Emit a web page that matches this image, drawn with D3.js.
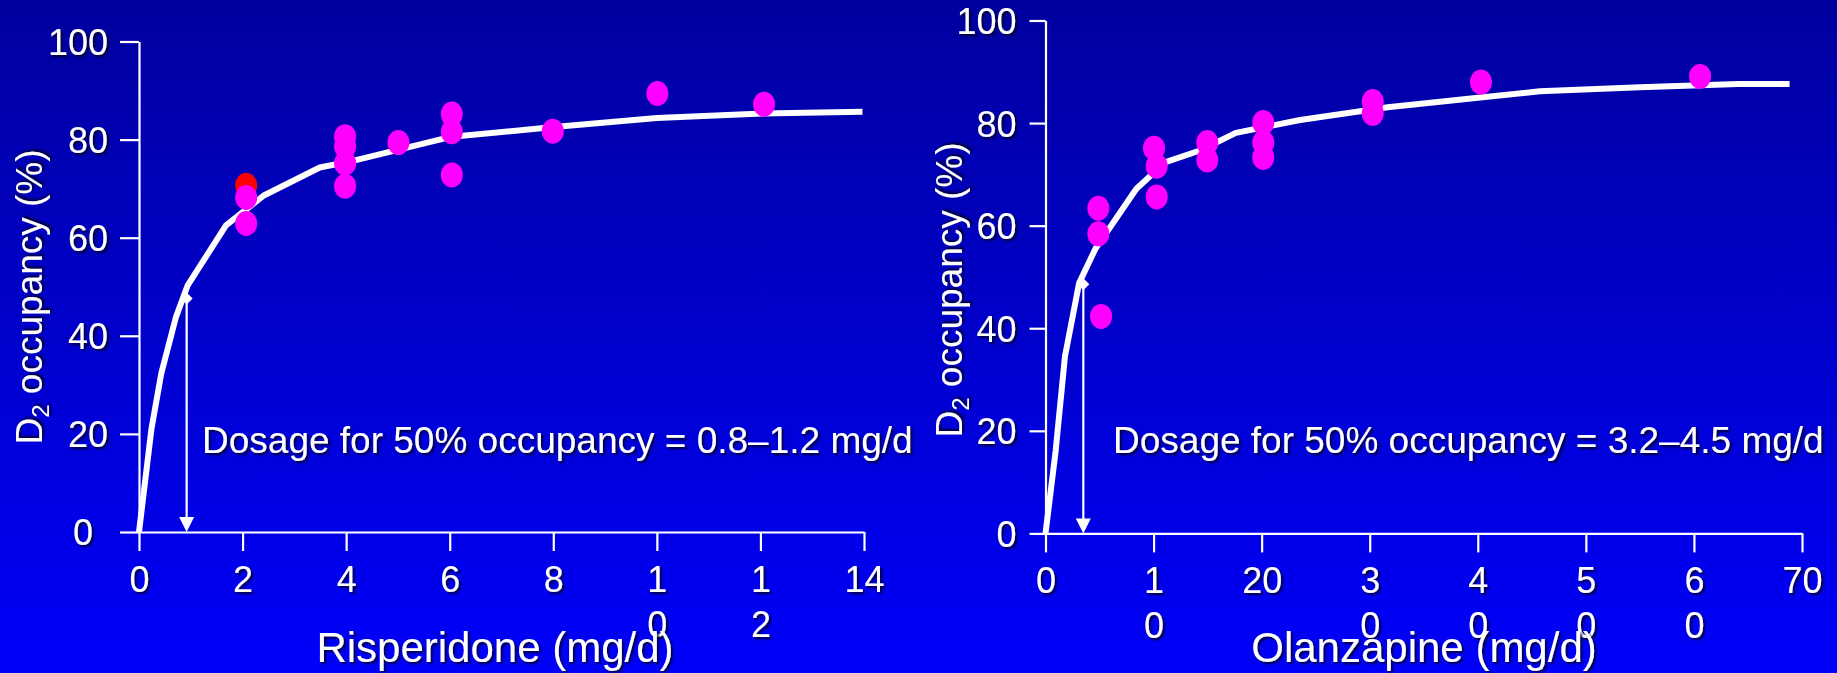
<!DOCTYPE html>
<html>
<head>
<meta charset="utf-8">
<script src="https://cdn.jsdelivr.net/npm/d3@7"></script>
<style>
  html, body { margin: 0; padding: 0; background: #0000c8; }
  svg { display: block; }
  text { font-family: "Liberation Sans", Arial, sans-serif; fill: #ffffff; }
</style>
</head>
<body>
<svg id="chart" width="1837" height="673"></svg>
<script>
// ---- Risperidone panel ----
const risDose = [2.07, 2.07, 3.98, 3.98, 3.98, 3.98, 5.01, 6.04, 6.04, 6.04, 7.99, 10.01, 12.07];
const risOcc  = [68.2, 62.9, 80.6, 78.6, 75.2, 70.5, 79.4, 85.2, 81.6, 72.8, 81.7, 89.4, 87.2];
const risRedDose = [2.07];
const risRedOcc  = [70.7];
const risCurveDose = [0, 0.24, 0.43, 0.71, 0.94, 1.68, 2.41, 3.49, 4.11, 6.04, 7.96, 10.0, 12.04, 13.97];
const risCurveOcc  = [0, 21, 32.3, 43.7, 50.3, 62.5, 68.6, 74.3, 75.6, 80.6, 82.5, 84.4, 85.3, 85.7];
const risHalfDose = [0.92];
const risHalfOcc  = [47.6];
const risXTicks  = [0, 2, 4, 6, 8, 10, 12, 14];
const risXLabels = ["0", "2", "4", "6", "8", "1\n0", "1\n2", "14"];

// ---- Olanzapine panel ----
const olaDose = [4.89, 4.89, 5.14, 10.04, 10.29, 10.29, 14.97, 14.97, 20.15, 20.15, 20.15, 30.28, 30.28, 40.29, 60.57];
const olaOcc  = [63.4, 58.4, 42.3, 75.1, 71.6, 65.6, 76.2, 72.8, 80.1, 76.2, 73.3, 84.2, 81.9, 88.0, 89.1];
const olaCurveDose = [0, 0.94, 1.80, 3.11, 4.62, 8.41, 11.11, 14.36, 17.61, 23.56, 31.67, 39.8, 45.75, 55.0, 64.1, 68.85];
const olaCurveOcc  = [0, 16.1, 34.5, 48.8, 55.5, 67.2, 72.4, 74.7, 78.1, 80.6, 83.1, 84.9, 86.2, 87.0, 87.6, 87.6];
const olaHalfDose = [3.5];
const olaHalfOcc  = [48.6];
const olaXTicks  = [0, 10, 20, 30, 40, 50, 60, 70];
const olaXLabels = ["0", "1\n0", "20", "3\n0", "4\n0", "5\n0", "6\n0", "70"];

const yTicks  = [0, 20, 40, 60, 80, 100];
const yLabels = ["0", "20", "40", "60", "80", "100"];

const svg = d3.select("#chart");
const defs = svg.append("defs");

// blue backdrop, darker at the top
const grad = defs.append("linearGradient").attr("id", "bg")
  .attr("x1", 0).attr("y1", 0).attr("x2", 0).attr("y2", 1);
grad.append("stop").attr("offset", "0%").attr("stop-color", "#00009e");
grad.append("stop").attr("offset", "100%").attr("stop-color", "#0000fa");
svg.append("rect").attr("width", 1837).attr("height", 673).attr("fill", "url(#bg)");

// soft dark shadow under white lettering
const shadow = defs.append("filter").attr("id", "shadow")
  .attr("x", "-10%").attr("y", "-10%").attr("width", "130%").attr("height", "130%");
shadow.append("feDropShadow").attr("dx", 2).attr("dy", 2)
  .attr("stdDeviation", 0.8).attr("flood-color", "#000020").attr("flood-opacity", 0.85);

function panel(cfg) {
  const x = d3.scaleLinear().domain(cfg.xDomain).range(cfg.xRange);
  const y = d3.scaleLinear().domain([0, 100]).range(cfg.yRange);
  const g = svg.append("g");

  // y axis
  const yAxis = d3.axisLeft(y).tickValues(yTicks)
    .tickFormat((d, i) => yLabels[i]).tickSize(cfg.yTickSize).tickSizeOuter(0).tickPadding(cfg.yPad);
  const ya = g.append("g").attr("transform", `translate(${x(0)},0)`).call(yAxis);

  // x axis
  const xAxis = d3.axisBottom(x).tickValues(cfg.xTicks)
    .tickFormat((d, i) => cfg.xLabels[i]).tickSize(19).tickSizeOuter(0).tickPadding(0);
  const xa = g.append("g").attr("transform", `translate(0,${y(0)})`).call(xAxis);

  [ya, xa].forEach(a => {
    a.select(".domain").attr("stroke", "#fff").attr("stroke-width", 2.2);
    a.selectAll(".tick line").attr("stroke", "#fff").attr("stroke-width", 2.2);
    a.selectAll(".tick text").attr("fill", "#fff").attr("font-size", 36)
      .attr("font-family", "'Liberation Sans', Arial, sans-serif")
      .attr("filter", "url(#shadow)");
  });
  ya.selectAll(".tick text").attr("dy", "0.36em")
    .attr("dx", (d) => (d === 0 ? cfg.zeroShift : 0));

  // two-line tick labels where the text wraps
  xa.selectAll(".tick text").each(function (d, i) {
    const t = d3.select(this);
    const parts = cfg.xLabels[i].split("\n");
    t.text(null).attr("dy", null).attr("y", 0);
    parts.forEach((p, k) => {
      t.append("tspan").attr("x", 0).attr("y", 60 + k * 45).text(p);
    });
  });

  // fitted occupancy curve
  const curvePts = cfg.curveDose.map((d, i) => [d, cfg.curveOcc[i]]);
  g.append("path").datum(curvePts)
    .attr("d", d3.line().x(d => x(d[0])).y(d => y(d[1])))
    .attr("fill", "none").attr("stroke", "#fff").attr("stroke-width", 6)
    .attr("stroke-linejoin", "round");

  // 50% occupancy dose marker
  const hx = x(cfg.halfDose[0]), hy = y(cfg.halfOcc[0]), by = y(0);
  g.append("line").attr("x1", hx).attr("x2", hx).attr("y1", hy).attr("y2", by - 12)
    .attr("stroke", "#fff").attr("stroke-width", 2.2);
  g.append("path")
    .attr("d", `M${hx - 7.5},${by - 15} L${hx + 7.5},${by - 15} L${hx},${by} Z`)
    .attr("fill", "#fff");
  g.append("path")
    .attr("d", `M${hx},${hy - 6} L${hx + 6},${hy} L${hx},${hy + 6} L${hx - 6},${hy} Z`)
    .attr("fill", "#fff");

  // subject measurements
  if (cfg.redDose) {
    g.selectAll(".red").data(cfg.redDose.map((d, i) => [d, cfg.redOcc[i]])).join("ellipse")
      .attr("cx", d => x(d[0])).attr("cy", d => y(d[1]))
      .attr("rx", 11).attr("ry", 12.5).attr("fill", "#ff0000");
  }
  g.selectAll(".pt").data(cfg.dose.map((d, i) => [d, cfg.occ[i]])).join("ellipse")
    .attr("cx", d => x(d[0])).attr("cy", d => y(d[1]))
    .attr("rx", 11).attr("ry", 12.5).attr("fill", "#ff00ff");

  // annotation
  g.append("text").attr("x", cfg.noteX).attr("y", 452.5)
    .attr("font-size", 37).attr("filter", "url(#shadow)").text(cfg.note);

  // axis titles
  g.append("text").attr("x", cfg.titleX).attr("y", 661.5).attr("text-anchor", "middle")
    .attr("font-size", 42).attr("filter", "url(#shadow)").text(cfg.title);

  const yt = g.append("text")
    .attr("transform", `translate(${cfg.yTitleX},${cfg.yTitleY}) rotate(-90)`)
    .attr("text-anchor", "middle").attr("font-size", 37).attr("filter", "url(#shadow)");
  yt.append("tspan").text("D");
  yt.append("tspan").attr("font-size", 24).attr("dy", 7).text("2");
  yt.append("tspan").attr("dy", -7).text(" occupancy (%)");
}

panel({
  xDomain: [0, 14], xRange: [139, 864], yRange: [532, 41.5],
  xTicks: risXTicks, xLabels: risXLabels, yTickSize: 19, yPad: 12, zeroShift: -15,
  dose: risDose, occ: risOcc, redDose: risRedDose, redOcc: risRedOcc,
  curveDose: risCurveDose, curveOcc: risCurveOcc,
  halfDose: risHalfDose, halfOcc: risHalfOcc,
  note: "Dosage for 50% occupancy = 0.8\u20131.2 mg/d", noteX: 202,
  title: "Risperidone (mg/d)", titleX: 495,
  yTitleX: 42, yTitleY: 297
});

panel({
  xDomain: [0, 70], xRange: [1045.5, 1802], yRange: [533.4, 20.5],
  xTicks: olaXTicks, xLabels: olaXLabels, yTickSize: 16, yPad: 13, zeroShift: 0,
  dose: olaDose, occ: olaOcc,
  curveDose: olaCurveDose, curveOcc: olaCurveOcc,
  halfDose: olaHalfDose, halfOcc: olaHalfOcc,
  note: "Dosage for 50% occupancy = 3.2\u20134.5 mg/d", noteX: 1113,
  title: "Olanzapine (mg/d)", titleX: 1424,
  yTitleX: 962, yTitleY: 290
});
</script>
</body>
</html>
